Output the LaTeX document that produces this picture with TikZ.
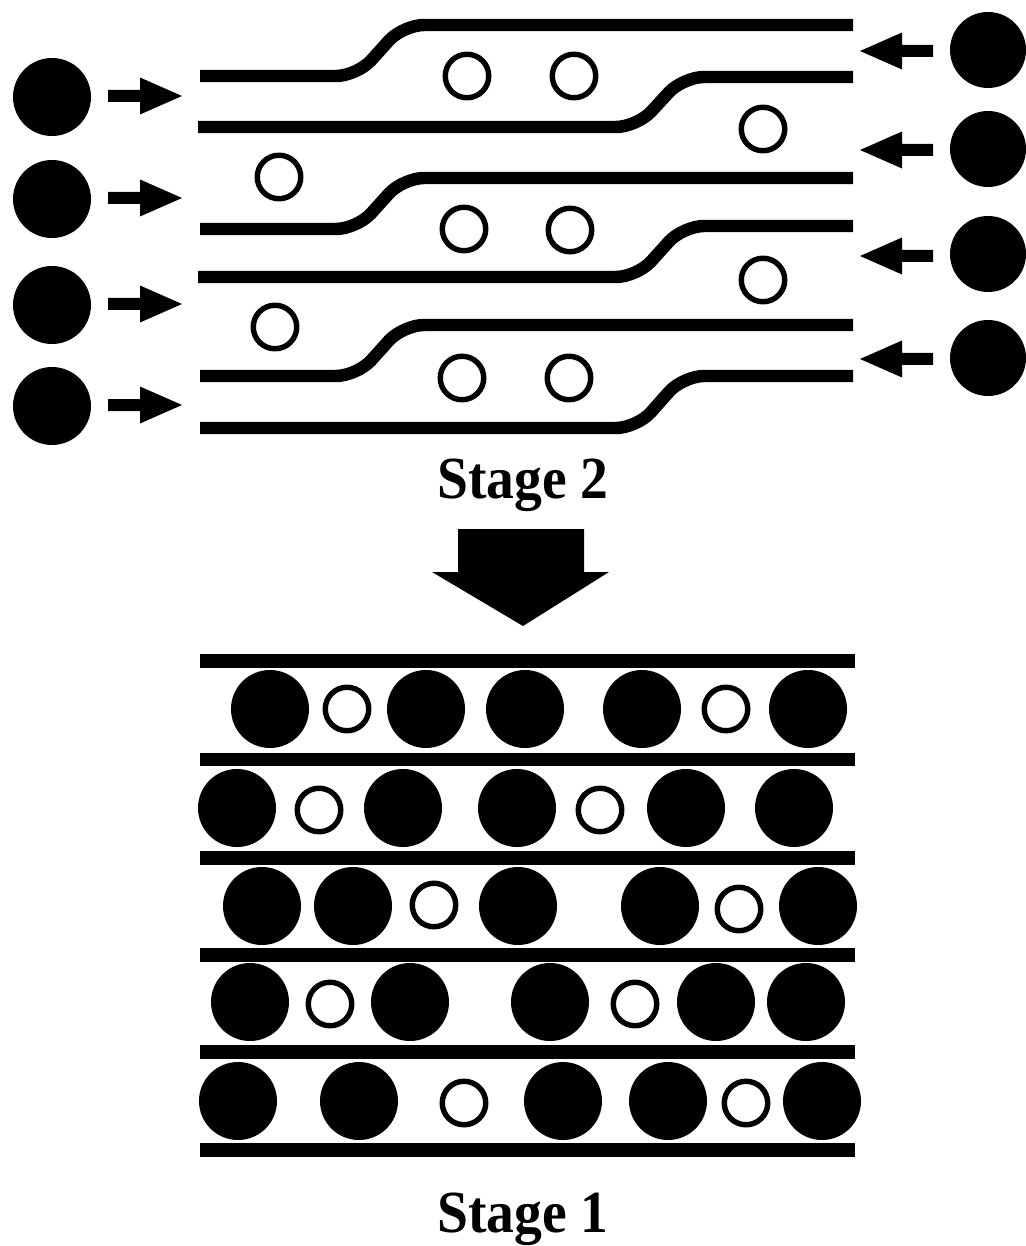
\documentclass[tikz,border=0pt]{standalone}
\usepackage{fontspec}
\setmainfont{Liberation Serif}
\begin{document}
\begin{tikzpicture}[x=0.02cm,y=-0.02cm,
  wall/.style={line width=7.1pt,rounded corners=12pt},
  bar/.style={line width=7.6pt},
  ball/.style={circle,fill=black,inner sep=0pt,minimum size=2*#1*0.02cm},
  ball/.default=39,
  ring/.style={circle,draw=black,line width=3.1pt,inner sep=0pt,minimum size=43.5*0.02cm},
  stagelabel/.style={font=\fontsize{34}{40}\selectfont\bfseries,xscale=0.93,anchor=base,inner sep=0pt}]
\useasboundingbox (0,0) rectangle (1025,1246);

% ---------- Stage 2: channels ----------
% upper set of walls (step up at x = 340..420)
\foreach \lo/\hi in {76/25, 229/178, 376/325}{
  \draw[wall] (200,\lo) -- (357,\lo) -- (403,\hi) -- (853,\hi);
}
% lower set of walls (step up at x = 620..700)
\foreach \lo/\hi/\s in {127/77/198, 277/226/198, 428/376/200}{
  \draw[wall] (\s,\lo) -- (637,\lo) -- (683,\hi) -- (853,\hi);
}

% small particles inside the channels
\foreach \x/\y [count=\i] in {467/76, 574/76, 763/129, 279/177, 464/229, 570/230, 763/280, 275/327, 462/378, 569/378}
  \node[ring] (s2r\i) at (\x,\y) {};

% large particles entering from the left
\foreach \y/\a [count=\i] in {97/96, 199/198, 305/304, 406/405}{
  \node[ball] (inL\i) at (52,\y) {};
  \fill (108,\a-6) -- (140,\a-6) -- (140,\a-18.5) -- (182,\a) -- (140,\a+18.5) -- (140,\a+6) -- (108,\a+6) -- cycle;
}
% large particles entering from the right
\foreach \y/\a [count=\i] in {50/51, 149/150, 254/256, 358/359}{
  \node[ball=38] (inR\i) at (988,\y) {};
  \fill (933,\a-6) -- (902,\a-6) -- (902,\a-18.5) -- (860,\a) -- (902,\a+18.5) -- (902,\a+6) -- (933,\a+6) -- cycle;
}

\node[stagelabel] (stage2) at (523,498) {Stage 2};

% big transition arrow
\fill (458,529) -- (584,529) -- (584,572) -- (609,572) -- (523,626) -- (432,572) -- (458,572) -- cycle;

% ---------- Stage 1: packed layers ----------
\foreach \y in {661, 759.5, 858, 955, 1052, 1150}
  \draw[bar] (200,\y) -- (855,\y);

% row 1
\foreach \x [count=\i] in {270, 426, 525, 642, 808} \node[ball] (r1b\i) at (\x,709) {};
\foreach \x [count=\i] in {347, 726} \node[ring] (r1r\i) at (\x,709) {};
% row 2
\foreach \x [count=\i] in {237, 403, 517, 686, 794} \node[ball] (r2b\i) at (\x,808) {};
\foreach \x [count=\i] in {319, 600} \node[ring] (r2r\i) at (\x,810) {};
% row 3
\foreach \x [count=\i] in {262, 353, 518, 660, 818} \node[ball] (r3b\i) at (\x,906) {};
\foreach \x/\y [count=\i] in {434/905, 739/909} \node[ring] (r3r\i) at (\x,\y) {};
% row 4
\foreach \x [count=\i] in {250, 410, 550, 716, 806} \node[ball] (r4b\i) at (\x,1002) {};
\foreach \x [count=\i] in {330, 635} \node[ring] (r4r\i) at (\x,1004) {};
% row 5
\foreach \x [count=\i] in {238, 359, 563, 668, 822} \node[ball] (r5b\i) at (\x,1101) {};
\foreach \x [count=\i] in {464, 746} \node[ring] (r5r\i) at (\x,1103) {};

\node[stagelabel] (stage1) at (523,1232) {Stage 1};
\end{tikzpicture}
\end{document}
